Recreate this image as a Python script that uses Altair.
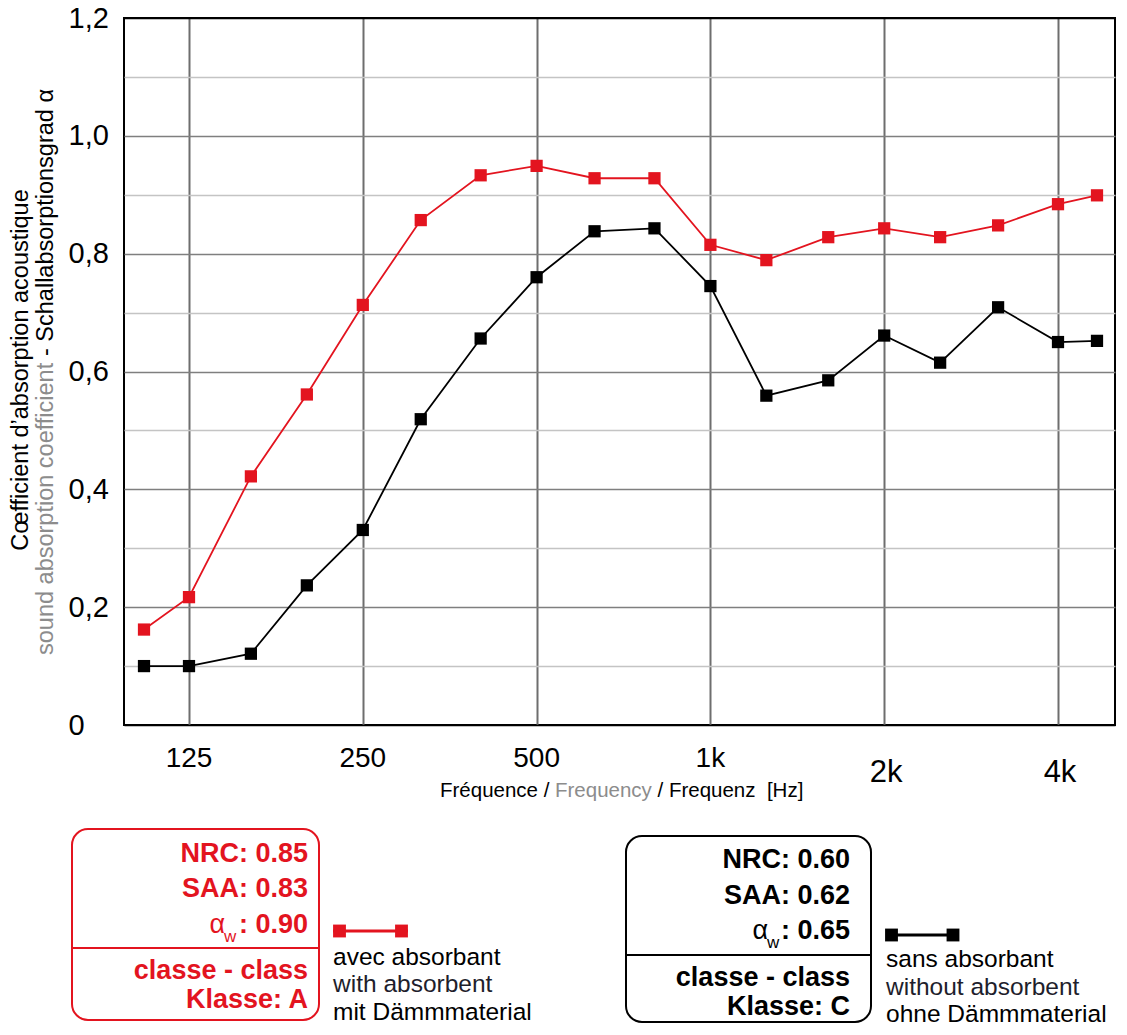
import altair as alt
import pandas as pd

# ---------------- data ----------------
freqs = [100, 125, 160, 200, 250, 315, 400, 500, 630, 800,
         1000, 1250, 1600, 2000, 2500, 3150, 4000, 5000]
with_absorbent = [0.162, 0.217, 0.422, 0.561, 0.713, 0.857, 0.933, 0.949, 0.928, 0.928,
                  0.815, 0.789, 0.828, 0.843, 0.828, 0.848, 0.884, 0.899]
without_absorbent = [0.100, 0.100, 0.121, 0.237, 0.331, 0.519, 0.656, 0.760, 0.838, 0.843,
                     0.745, 0.559, 0.585, 0.661, 0.615, 0.709, 0.650, 0.652]
series_names = ["avec absorbant", "sans absorbant"]

tick_freqs = [125, 250, 500, 1000, 2000, 4000]
tick_labels = ["125", "250", "500", "1k", "2k", "4k"]
y_ticks = [0.0, 0.1, 0.2, 0.3, 0.4, 0.5, 0.6, 0.7, 0.8, 0.9, 1.0, 1.1, 1.2]

y_title_1 = "Cœfficient d’absorption acoustique"
y_title_2a = "sound absorption coefficient"
y_title_2b = "- Schallabsorptionsgrad α"
x_title = ["Fréquence /", "Frequency", "/ Frequenz\u00a0 [Hz]"]

red_stats = ["NRC: 0.85", "SAA: 0.83", ": 0.90"]
red_class = ["classe - class", "Klasse: A"]
black_stats = ["NRC: 0.60", "SAA: 0.62", ": 0.65"]
black_class = ["classe - class", "Klasse: C"]
red_legend = ["avec absorbant", "with absorbent", "mit Dämmmaterial"]
black_legend = ["sans absorbant", "without absorbent", "ohne Dämmmaterial"]

RED = "#e3141f"
GRAY = "#8c8c8c"
DARK = "#1e1e2c"
FONT = "Liberation Sans"

df = pd.DataFrame({
    "freq": freqs + freqs,
    "alpha": with_absorbent + without_absorbent,
    "series": [series_names[0]] * len(freqs) + [series_names[1]] * len(freqs),
})
ticks_df = pd.DataFrame({"freq": tick_freqs, "label": tick_labels})

x_scale = alt.Scale(type="log", domain=[97, 100, 125, 4000, 5000, 5050],
                    range=[0, 20, 65, 934, 973, 991], nice=False)
y_scale = alt.Scale(domain=[0, 1.2], nice=False)

x_enc = alt.X("freq:Q", scale=x_scale,
              axis=alt.Axis(values=tick_freqs, grid=True, gridColor="#6e6e6e", gridWidth=2,
                            labels=False, ticks=False, domain=False, title=None))
y_enc = alt.Y("alpha:Q", scale=y_scale,
              axis=alt.Axis(values=y_ticks, grid=True,
                            gridColor={"condition": [
                                {"test": "datum.value < 0.05 || datum.value > 1.15", "value": "black"},
                                {"test": "round(datum.value*10) % 2 == 1", "value": "#c4c4c4"}],
                                "value": "#7f7f7f"},
                            gridWidth=1.7, domain=False, ticks=False, tickSize=0,
                            labelPadding=56, labelAlign="left", labelBaseline="middle",
                            labelFontSize=29, labelFont=FONT, labelColor="black",
                            labelFlush=False, labelOverlap=False,
                            labelExpr="datum.value == 0 ? '0' : (round(datum.value*10) % 2 == 0 ? replace(format(datum.value, '.1f'), '.', ',') : '')",
                            title=None))
color_enc = alt.Color("series:N", scale=alt.Scale(domain=series_names, range=[RED, "black"]), legend=None)

lines = alt.Chart(df).mark_line(strokeWidth=1.8).encode(x=x_enc, y=y_enc, color=color_enc)
points = alt.Chart(df).mark_point(shape="square", filled=True, size=150, opacity=1).encode(
    x="freq:Q", y="alpha:Q", color=color_enc)

xlabels_a = alt.Chart(ticks_df).transform_filter("datum.freq < 2000").mark_text(
    fontSize=28, font=FONT, color="black", align="center", baseline="alphabetic").encode(
    x="freq:Q", y=alt.value(749), text="label:N")
xlabels_b = alt.Chart(ticks_df).transform_filter("datum.freq >= 2000").mark_text(
    fontSize=31, font=FONT, color="black", align="center", baseline="alphabetic", dx=2).encode(
    x="freq:Q", y=alt.value(764), text="label:N")

anchor = pd.DataFrame({"k": [0]})


def label(s, x, y, size, color="black", weight="normal", align="left", angle=0, baseline="alphabetic"):
    return alt.Chart(anchor).mark_text(text=s, fontSize=size, font=FONT, color=color, fontWeight=weight,
                                       align=align, baseline=baseline, angle=angle).encode(
        x=alt.value(x), y=alt.value(y))


def box(x1, x2, y1, y2, color):
    return alt.Chart(anchor).mark_rect(cornerRadius=16, fillOpacity=0, stroke=color, strokeWidth=2).encode(
        x=alt.value(x1), x2=alt.value(x2), y=alt.value(y1), y2=alt.value(y2))


def hline(x1, x2, y, color, w):
    return alt.Chart(anchor).mark_rule(color=color, strokeWidth=w).encode(
        x=alt.value(x1), x2=alt.value(x2), y=alt.value(y))


def square(x, y, color):
    return alt.Chart(anchor).mark_square(size=165, color=color, opacity=1).encode(
        x=alt.value(x), y=alt.value(y))


deco = [
    # y title
    label(y_title_1, -103, 352, 23.5, angle=270, align="center", baseline="middle"),
    label(y_title_2a, -78, 637, 23.5, color=GRAY, angle=270, align="left", baseline="middle"),
    label(y_title_2b, -78, 338, 23.5, angle=270, align="left", baseline="middle"),
    # x title
    label(x_title[0], 316, 779, 20.5),
    label(x_title[1], 431, 779, 20.5, color=GRAY),
    label(x_title[2], 533.5, 779, 20.5),
    # red box
    box(-52, 195, 811, 1002, RED),
    hline(-52, 195, 930, RED, 2),
    label(red_stats[0], 184, 844, 27, RED, "bold", "right"),
    label(red_stats[1], 184, 879, 27, RED, "bold", "right"),
    label(red_stats[2], 184, 915, 27, RED, "bold", "right"),
    label("α", 101, 915, 27, RED, "normal", "right"),
    label("w", 100, 924, 17, RED, "normal", "left"),
    label(red_class[0], 184, 961, 27, RED, "bold", "right"),
    label(red_class[1], 184, 990, 27, RED, "bold", "right"),
    # red legend
    hline(209, 284, 913, RED, 3),
    square(215.5, 913, RED),
    square(277.5, 913, RED),
    label(red_legend[0], 209, 947, 24.5),
    label(red_legend[1], 209, 974, 24.5, color=DARK),
    label(red_legend[2], 209, 1002, 24.5),
    # black box
    box(502, 747, 818, 1004, "black"),
    hline(502, 747, 937, "black", 2),
    label(black_stats[0], 726, 850, 27, "black", "bold", "right"),
    label(black_stats[1], 726, 886, 27, "black", "bold", "right"),
    label(black_stats[2], 726, 921, 27, "black", "bold", "right"),
    label("α", 644, 921, 27, "black", "normal", "right"),
    label("w", 643, 930, 17, "black", "normal", "left"),
    label(black_class[0], 726, 968, 27, "black", "bold", "right"),
    label(black_class[1], 726, 997, 27, "black", "bold", "right"),
    # black legend
    hline(762, 835, 917, "black", 3),
    square(767.5, 917, "black"),
    square(829, 917, "black"),
    label(black_legend[0], 762, 949, 24.5),
    label(black_legend[1], 762, 977, 24.5, color=DARK),
    label(black_legend[2], 762, 1004, 24.5),
]

chart = alt.layer(lines, points, xlabels_a, xlabels_b, *deco).properties(
    width=991, height=707,
    padding={"left": 116, "top": 10, "right": 4, "bottom": 302},
    autosize=alt.AutoSizeParams(type="none"),
).configure_view(stroke="black", strokeWidth=2)

chart.save("out.html", embed_options={"renderer": "svg", "actions": False})
